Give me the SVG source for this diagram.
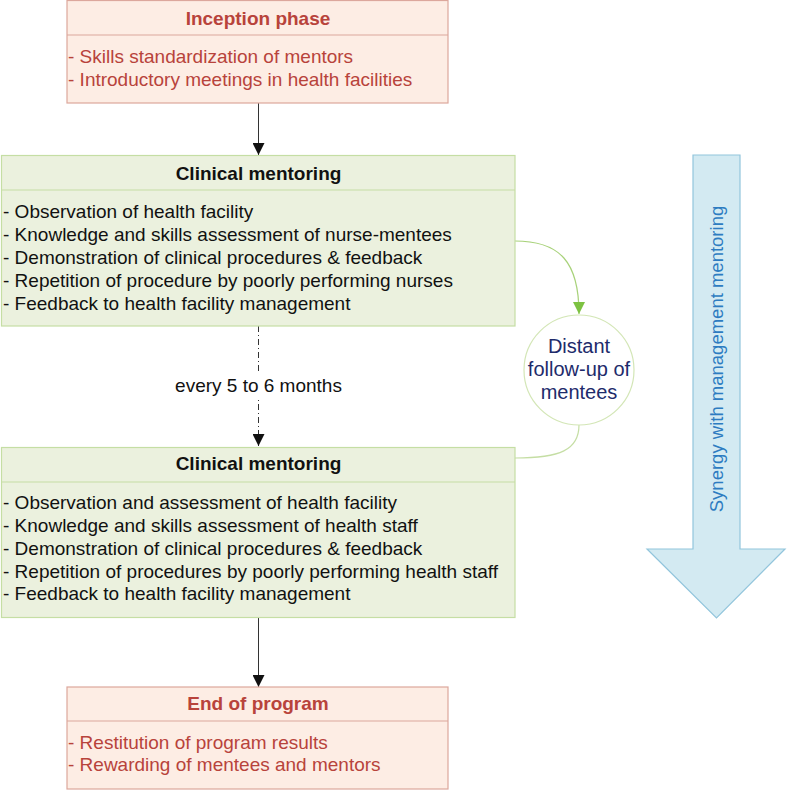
<svg xmlns="http://www.w3.org/2000/svg" width="787" height="791" viewBox="0 0 787 791">
<defs>
<style>
.pink{fill:#fdede4;stroke:#dca79c;stroke-width:1.2}
.green{fill:#ebf1de;stroke:#c5dea4;stroke-width:1.2}
.t{font-family:"Liberation Sans",Arial,sans-serif;font-size:19px}
.tb{font-family:"Liberation Sans",Arial,sans-serif;font-size:19px;font-weight:bold;text-anchor:middle}
.red{fill:#b8433b}
.blk{fill:#111}
.conn{stroke:#333;stroke-width:1;fill:none}
</style>
<marker id="ah" markerWidth="12" markerHeight="12" viewBox="0 0 12 12" refX="12" refY="6" orient="auto" markerUnits="userSpaceOnUse">
<path d="M0,0 L12,6 L0,12 Z" fill="#111"/>
</marker>
<marker id="ahg" markerWidth="12" markerHeight="12" viewBox="0 0 12 12" refX="12" refY="6" orient="auto" markerUnits="userSpaceOnUse">
<path d="M0,0 L12,6 L0,12 Z" fill="#7dc242"/>
</marker>
</defs>
<rect width="787" height="791" fill="#fff"/>

<g id="synergy">
<path d="M693,155 L740,155 L740,549 L785,549 L716.5,618 L647,549 L693,549 Z" fill="#d3eaf2" stroke="#92c5dc" stroke-width="1.2"/>
<text class="t" transform="translate(723,359) rotate(-90)" text-anchor="middle" fill="#2d7cc1" style="font-size:18.5px">Synergy with management mentoring</text>
</g>

<g id="connectors">
<line class="conn" x1="258.5" y1="103" x2="258.5" y2="155" marker-end="url(#ah)"/>
<line class="conn" x1="258.5" y1="326" x2="258.5" y2="446" stroke="#777" stroke-dasharray="6,3,1,3" marker-end="url(#ah)"/>
<rect x="174" y="372" width="170" height="26" fill="#fff"/>
<text class="t blk" x="258.5" y="392" text-anchor="middle">every 5 to 6 months</text>
<line class="conn" x1="258.5" y1="618" x2="258.5" y2="687" marker-end="url(#ah)"/>
<path d="M515,241 C560,241 579,262 579,314" fill="none" stroke="#a8d27a" stroke-width="1.2" marker-end="url(#ahg)"/>
<path d="M579,425 C579,450 560,458 515,458" fill="none" stroke="#c5dea4" stroke-width="1.2"/>
</g>

<g id="inception">
<rect class="pink" x="67" y="0.5" width="381" height="102.5"/>
<line x1="67" y1="35" x2="448" y2="35" stroke="#dca79c" stroke-width="1.2"/>
<text class="tb red" x="258" y="25">Inception phase</text>
<text class="t red" x="68" y="63">- Skills standardization of mentors</text>
<text class="t red" x="68" y="86">- Introductory meetings in health facilities</text>
</g>

<g id="clinical1">
<rect class="green" x="1.5" y="155.5" width="513.5" height="170.5"/>
<line x1="1.5" y1="190" x2="515" y2="190" stroke="#c5dea4" stroke-width="1.2"/>
<text class="tb blk" x="258.5" y="180">Clinical mentoring</text>
<text class="t blk" x="3" y="218">- Observation of health facility</text>
<text class="t blk" x="3" y="241">- Knowledge and skills assessment of nurse-mentees</text>
<text class="t blk" x="3" y="264">- Demonstration of clinical procedures &amp; feedback</text>
<text class="t blk" x="3" y="287">- Repetition of procedure by poorly performing nurses</text>
<text class="t blk" x="3" y="310">- Feedback to health facility management</text>
</g>

<g id="followup">
<circle cx="579" cy="370" r="55" fill="#fff" stroke="#d3e6b6" stroke-width="1.2"/>
<text class="t" x="579" y="353" text-anchor="middle" fill="#1e2b6b" style="font-size:20px">Distant</text>
<text class="t" x="579" y="376" text-anchor="middle" fill="#1e2b6b" style="font-size:20px">follow-up of</text>
<text class="t" x="579" y="399" text-anchor="middle" fill="#1e2b6b" style="font-size:20px">mentees</text>
</g>

<g id="clinical2">
<rect class="green" x="1.5" y="447.5" width="513.5" height="170"/>
<line x1="1.5" y1="482" x2="515" y2="482" stroke="#c5dea4" stroke-width="1.2"/>
<text class="tb blk" x="258.5" y="470">Clinical mentoring</text>
<text class="t blk" x="3" y="509">- Observation and assessment of health facility</text>
<text class="t blk" x="3" y="532">- Knowledge and skills assessment of health staff</text>
<text class="t blk" x="3" y="555">- Demonstration of clinical procedures &amp; feedback</text>
<text class="t blk" x="3" y="578">- Repetition of procedures by poorly performing health staff</text>
<text class="t blk" x="3" y="600">- Feedback to health facility management</text>
</g>

<g id="end">
<rect class="pink" x="67" y="687" width="381" height="102"/>
<line x1="67" y1="721" x2="448" y2="721" stroke="#dca79c" stroke-width="1.2"/>
<text class="tb red" x="258" y="710">End of program</text>
<text class="t red" x="68" y="749">- Restitution of program results</text>
<text class="t red" x="68" y="771">- Rewarding of mentees and mentors</text>
</g>
</svg>
